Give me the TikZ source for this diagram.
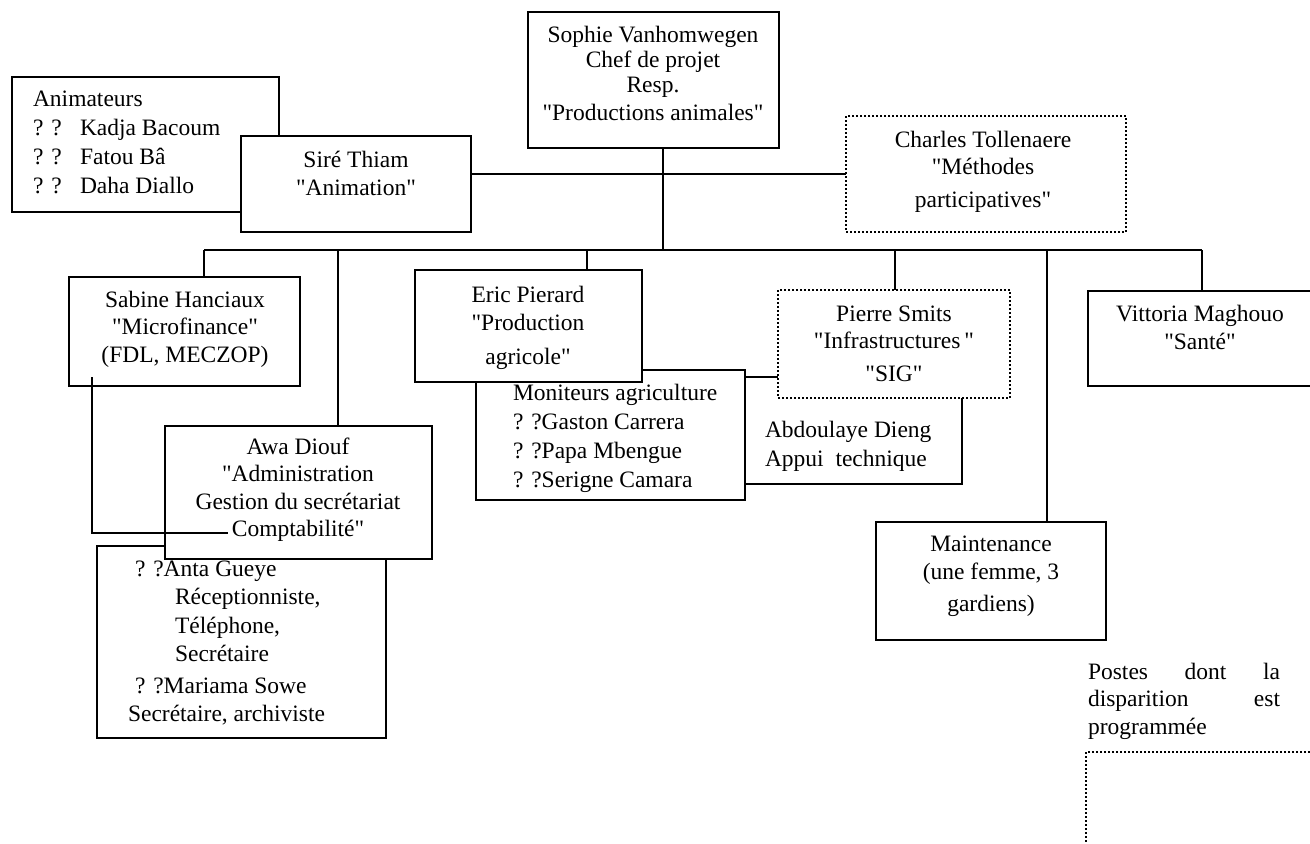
\documentclass[tikz,border=0pt]{standalone}
\usepackage{fontspec}
\setmainfont{Liberation Serif}[Ligatures=TeXOff]
\usetikzlibrary{calc}

% a framed box given by its top-left and bottom-right corners (units: px)
\newcommand\orgbox[6][]{%
  \node[box,#1,anchor=north west,
        minimum width={(#4-#2)*0.5pt},
        minimum height={(#5-#3)*0.5pt}] (#6) at (#2,#3) {};}

\begin{document}
\begin{tikzpicture}[x=0.5pt,y=-0.5pt,
  every node/.style={inner sep=0pt,outer sep=0pt},
  box/.style={draw=black,line width=1pt,fill=white},
  dotbox/.style={dash pattern=on 1pt off 1pt},
  conn/.style={draw=black,line width=1pt},
  ctext/.style={anchor=north,align=center,font=\fontsize{11.75}{#1}\selectfont},
  ltext/.style={anchor=north west,align=left,font=\fontsize{11.75}{#1}\selectfont}]

\useasboundingbox (0,0) rectangle (1310,843);

% --- animation team
\orgbox{12}{77}{279}{212}{anim}
\node[ltext=14.5pt] (animT) at (33,91)
  {Animateurs\\
   \makebox[23.5pt][l]{? ?}Kadja Bacoum\\
   \makebox[23.5pt][l]{? ?}Fatou Bâ\\
   \makebox[23.5pt][l]{? ?}Daha Diallo};
\orgbox{241}{136}{471}{232}{sire}
\node[ctext=14pt] (sireT) at (356,151) {Siré Thiam\\"Animation"};

% --- project head
\orgbox{528}{12}{779}{148}{sophie}
\node[ctext=12.5pt] (sophieT) at (653,26)
  {Sophie Vanhomwegen\\Chef de projet\\Resp.\\[1.5pt]"Productions animales"};

\orgbox[dotbox]{846}{116}{1126}{232}{charles}
\node[ctext=13.5pt] (charlesT) at (983,131)
  {Charles Tollenaere\\"Méthodes\\[3pt]participatives"};

% --- second row
\orgbox{69}{277}{300}{386}{sabine}
\node[ctext=13.75pt] (sabineT) at (185,291)
  {Sabine Hanciaux\\ "Microfinance"\\(FDL, MECZOP)};

\orgbox{476}{370}{745}{500}{monit}
\node[ltext=14.6pt] (monitT) at (513,384)
  {Moniteurs agriculture\\? ?Gaston Carrera\\? ?Papa Mbengue\\? ?Serigne Camara};
\orgbox{415}{270}{642}{382}{eric}
\node[ctext=14pt] (ericT) at (528,286)
  {Eric Pierard\\"Production\\[3pt]agricole"};

\orgbox{745}{377}{962}{484}{abdou}
\node[ltext=14.5pt] (abdouT) at (765,421)
  {Abdoulaye Dieng\\Appui\ \ technique};
\orgbox[dotbox]{778}{290}{1010}{398}{pierre}
\node[ctext=13.5pt] (pierreT) at (894,306)
  {Pierre Smits\\"Infrastructures\,"\\[3pt]"SIG"};

\orgbox{1088}{291}{1318}{386}{vitt}
\node[ctext=14pt] (vittT) at (1200,305) {Vittoria Maghouo\\"Santé"};

% --- administration
\orgbox{97}{546}{386}{738}{secr}
\node[ltext=14.2pt] (secrT) at (128,561)
  {\hspace*{3.5pt}? ?Anta Gueye\\
   \hspace*{23.5pt}Réceptionniste,\\
   \hspace*{23.5pt}Téléphone,\\
   \hspace*{23.5pt}Secrétaire\\[1.5pt]
   \hspace*{3.5pt}? ?Mariama Sowe\\
   Secrétaire, archiviste};
\orgbox{165}{426}{432}{559}{awa}
\node[ctext=13.7pt] (awaT) at (298,438)
  {Awa Diouf\\"Administration\\Gestion du secrétariat\\Comptabilité"};

% --- maintenance
\orgbox{876}{522}{1106}{640}{maint}
\node[ctext=14pt] (maintT) at (991,536)
  {Maintenance\\(une femme, 3\\[2pt]gardiens)};

% --- key for dotted boxes
\node[ltext=13.75pt,text width=96pt] (keyT) at (1088,663)
  {Postes\hfill dont\hfill la\\disparition\hfill est\\programmée};
\orgbox[dotbox]{1086}{752}{1330}{860}{key}

% --- connectors
\coordinate (busL) at (204,250);
\coordinate (busR) at (1202,250);
\coordinate (headDrop) at (663,250);
\coordinate (awaDrop) at (338,250);
\coordinate (ericDrop) at (587,250);
\coordinate (pierreDrop) at (895,250);
\coordinate (maintDrop) at (1047,250);
\coordinate (advY) at (0,174);
\coordinate (sabX) at ($(sabine.south west)+(23,0)$);
\coordinate (sabTop) at ($(sabine.south west)+(23,-9)$);
\coordinate (sabY) at (0,533);
\coordinate (sabEnd) at (228,533);

\draw[conn] (headDrop |- sophie.south) -- (headDrop);
\draw[conn] (sire.east |- advY) -- (charles.west |- advY);
\draw[conn] (busL) -- (busR);
\draw[conn] (busL) -- (busL |- sabine.north);
\draw[conn] (awaDrop) -- (awaDrop |- awa.north);
\draw[conn] (ericDrop) -- (ericDrop |- eric.north);
\draw[conn] (pierreDrop) -- (pierreDrop |- pierre.north);
\draw[conn] (maintDrop) -- (maintDrop |- maint.north);
\draw[conn] (busR) -- (busR |- vitt.north);
\draw[conn] (sabTop) -- (sabX |- sabY) -- (sabEnd);

\end{tikzpicture}
\end{document}
